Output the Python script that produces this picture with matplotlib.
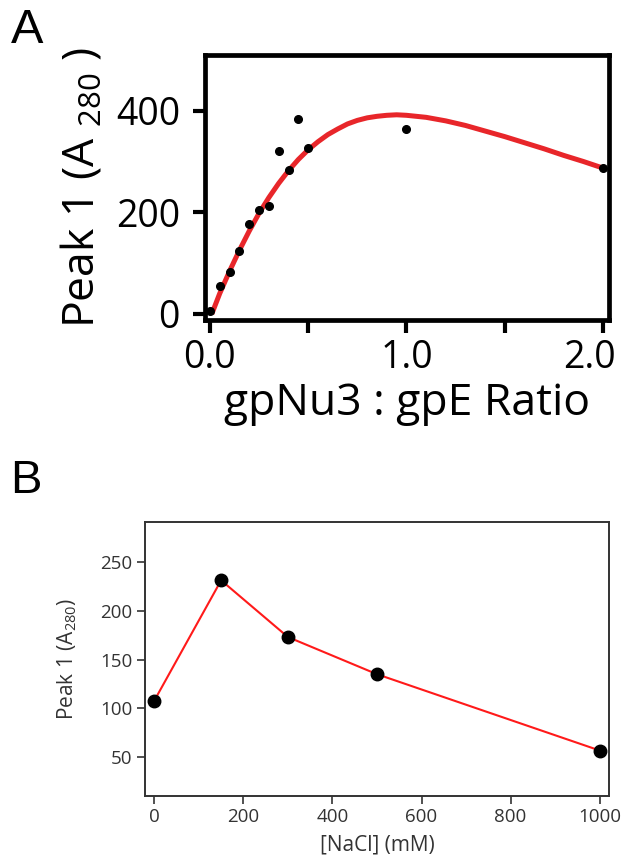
import matplotlib
matplotlib.use('Agg')
import matplotlib.pyplot as plt
from matplotlib.transforms import ScaledTranslation

# panel A: binding titration
ratio = [0.0, 0.05, 0.1, 0.15, 0.2, 0.25, 0.3, 0.35, 0.4, 0.45, 0.5, 1.0, 2.0]
peak_a = [5, 55, 83, 123, 177, 204, 212, 321, 284, 383, 327, 364, 288]
# fitted curve
fit_x = [0.01, 0.05, 0.1, 0.15, 0.2, 0.25, 0.3, 0.35, 0.4, 0.45, 0.5, 0.55,
         0.6, 0.65, 0.7, 0.75, 0.8, 0.85, 0.9, 0.95, 1.0, 1.05, 1.1, 1.2,
         1.3, 1.4, 1.5, 1.6, 1.7, 1.8, 1.9, 2.0]
fit_y = [0, 40, 84, 125, 163, 198, 229, 257, 282, 304, 323, 339,
         353, 364, 374, 381, 386, 389, 391, 392, 391, 389, 387, 380,
         371, 360, 349, 337, 325, 312, 300, 287]
a_xticks = [0.0, 0.5, 1.0, 1.5, 2.0]
a_xticklabels = ['0.0', '', '1.0', '', '2.0']
a_yticks = [0, 200, 400]

# panel B: salt dependence
nacl = [0, 150, 300, 500, 1000]
peak_b = [108, 231, 173, 135, 57]
b_xticks = [0, 200, 400, 600, 800, 1000]
b_yticks = [50, 100, 150, 200, 250]

plt.rcParams['font.family'] = ['Open Sans', 'DejaVu Sans']

fig = plt.figure(figsize=(6.23, 8.67), dpi=100)

# ---- A ----
ax = fig.add_axes([0.329, 0.631, 0.6485, 0.3057])
ax.plot(fit_x, fit_y, color='#e8262a', lw=3.6, solid_capstyle='butt',
        solid_joinstyle='round', zorder=2)
ax.plot(ratio, peak_a, 'o', color='black', ms=5.5, zorder=3, clip_on=False)
ax.set_xlim(-0.025, 2.03)
ax.set_ylim(-12, 510)
ax.set_xticks(a_xticks)
ax.set_xticklabels(a_xticklabels)
ax.set_yticks(a_yticks)
for s in ax.spines.values():
    s.set_linewidth(3.4)
ax.tick_params(direction='out', length=9, width=3, labelsize=27)
ax.tick_params(axis='y', pad=9)
ax.tick_params(axis='x', pad=5)
# last label pulled in so it stays on the page
last = ax.get_xticklabels()[-1]
last.set_transform(last.get_transform() + ScaledTranslation(-0.14, 0, fig.dpi_scale_trans))
ax.set_xlabel('gpNu3 : gpE Ratio', fontsize=32, labelpad=3)
ax.set_ylabel(r'Peak 1 (A $_{\mathregular{280}}$ )', fontsize=32, labelpad=8)
fig.text(0.018, 0.9504, 'A', fontsize=35, family='Liberation Sans')

# ---- B ----
gray = '#333333'
bx = fig.add_axes([0.2327, 0.0819, 0.7456, 0.316])
bx.plot(nacl, peak_b, '-', color='#ff1a1a', lw=1.5, zorder=2)
bx.plot(nacl, peak_b, 'o', color='black', ms=9, zorder=3, clip_on=False)
bx.set_xlim(-21, 1022)
bx.set_ylim(10.5, 290.6)
bx.set_xticks(b_xticks)
bx.set_yticks(b_yticks)
for s in bx.spines.values():
    s.set_linewidth(1.4)
    s.set_color(gray)
bx.tick_params(direction='out', length=6, width=1.2, labelsize=13.5,
               colors=gray, pad=3)
bx.set_xlabel('[NaCl] (mM)', fontsize=15, color=gray, labelpad=6)
bx.set_ylabel(r'Peak 1 (A$_{\mathregular{280}}$)', fontsize=15, color=gray,
              labelpad=15)
fig.text(0.016, 0.4314, 'B', fontsize=34, family='Liberation Sans')

fig.savefig('out.png', dpi=100)
